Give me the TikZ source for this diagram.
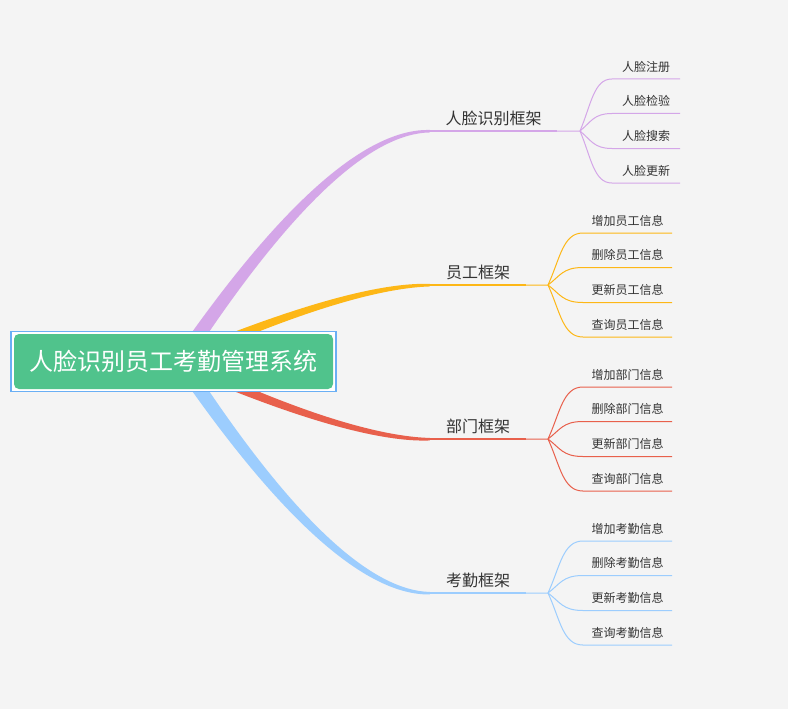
\documentclass[tikz,border=0pt]{standalone}
\usepackage{fontspec}
\newfontfamily\cjk{Noto Sans CJK SC}
\usetikzlibrary{calc,backgrounds}

\definecolor{bgcol}{HTML}{F4F4F4}
\definecolor{topiccol}{HTML}{50C38C}
\definecolor{framecol}{HTML}{6AAFF4}
\definecolor{facecol}{HTML}{D4A6E8}
\definecolor{staffcol}{HTML}{FDB716}
\definecolor{deptcol}{HTML}{E8604C}
\definecolor{attendcol}{HTML}{9CCDFE}
\definecolor{txtcol}{HTML}{333333}

\tikzset{
  rootbox/.style={fill=topiccol, rounded corners=5pt, minimum width=319pt, minimum height=55pt,
    inner sep=0pt, text=white, font=\cjk\fontsize{24}{24}\selectfont},
  selframe/.style={draw=framecol, fill=white, line width=1.5pt},
  branch/.style={inner sep=0pt, minimum height=26pt, text=txtcol, font=\cjk\fontsize{16}{16}\selectfont},
  leaf/.style={anchor=south, inner sep=0pt, minimum height=24pt, text=txtcol, font=\cjk\fontsize{12}{12}\selectfont},
  under/.style={line width=2pt},
  twig/.style={line width=1pt},
}

\begin{document}
\begin{tikzpicture}[x=1pt,y=-1pt]
    \useasboundingbox (0,0) rectangle (788,709);
    %% central topic
    \node[rootbox] (root) at (173.5,361.5) {人脸识别员工考勤管理系统};
    %% main topics
    \node[branch, minimum width=127pt] (face) at (493.5,118) {人脸识别框架};
    \node[branch, minimum width=96pt] (staff) at (478,272) {员工框架};
    \node[branch, minimum width=96pt] (dept) at (478,426) {部门框架};
    \node[branch, minimum width=96pt] (attend) at (478,580) {考勤框架};
    %% forks
    \coordinate (f1) at (580,131);
    \coordinate (f2) at (548,285);
    \coordinate (f3) at (548,439);
    \coordinate (f4) at (548,593);
    %% subtopics
    \node[leaf, minimum width=68pt] (face1) at (646,79) {人脸注册};
    \node[leaf, minimum width=68pt] (face2) at (646,113.5) {人脸检验};
    \node[leaf, minimum width=68pt] (face3) at (646,148.5) {人脸搜索};
    \node[leaf, minimum width=68pt] (face4) at (646,183) {人脸更新};
    \node[leaf, minimum width=89pt] (staff1) at (627.5,233) {增加员工信息};
    \node[leaf, minimum width=89pt] (staff2) at (627.5,267.5) {删除员工信息};
    \node[leaf, minimum width=89pt] (staff3) at (627.5,302.5) {更新员工信息};
    \node[leaf, minimum width=89pt] (staff4) at (627.5,337) {查询员工信息};
    \node[leaf, minimum width=89pt] (dept1) at (627.5,387) {增加部门信息};
    \node[leaf, minimum width=89pt] (dept2) at (627.5,421.5) {删除部门信息};
    \node[leaf, minimum width=89pt] (dept3) at (627.5,456.5) {更新部门信息};
    \node[leaf, minimum width=89pt] (dept4) at (627.5,491) {查询部门信息};
    \node[leaf, minimum width=89pt] (attend1) at (627.5,541) {增加考勤信息};
    \node[leaf, minimum width=89pt] (attend2) at (627.5,575.5) {删除考勤信息};
    \node[leaf, minimum width=89pt] (attend3) at (627.5,610.5) {更新考勤信息};
    \node[leaf, minimum width=89pt] (attend4) at (627.5,645) {查询考勤信息};

    \begin{scope}[on background layer]
        \fill[bgcol] (0,0) rectangle (788,709);
        %% tapered branches
        \fill[facecol] (190,335) .. controls (288.7,196.7) and (368.7,128.6) .. ([yshift=1.25pt]face.south west)
            -- ([yshift=-1.25pt]face.south west) .. controls (372.7,133.4) and (298.3,200.7) .. (207,335) -- cycle;
        \fill[staffcol] (226,335) .. controls (319.5,299.1) and (387.5,282.3) .. ([yshift=1.25pt]staff.south west)
            -- ([yshift=-1.25pt]staff.south west) .. controls (388.5,287.7) and (328.5,303.6) .. (250,335) -- cycle;
        \fill[deptcol] (226,388) .. controls (319.5,425.4) and (387.5,442.2) .. ([yshift=-1.25pt]dept.south west)
            -- ([yshift=1.25pt]dept.south west) .. controls (388.5,436.8) and (328.5,420.9) .. (250,388) -- cycle;
        \fill[attendcol] (190,388) .. controls (288.7,527.3) and (368.7,595.4) .. ([yshift=-1.25pt]attend.south west)
            -- ([yshift=1.25pt]attend.south west) .. controls (372.7,590.6) and (298.3,523.3) .. (207,388) -- cycle;
        %% selection frame
        \draw[selframe] ($(root.south west)+(-2.7,2.5)$) rectangle ($(root.north east)+(3,-2.5)$);
    \end{scope}

    %% underlines
    \draw[facecol, under] (face.south west) -- (face.south east);
    \draw[facecol, twig] (face.south east) -- (f1);
    \draw[staffcol, under] (staff.south west) -- (staff.south east);
    \draw[staffcol, twig] (staff.south east) -- (f2);
    \draw[deptcol, under] (dept.south west) -- (dept.south east);
    \draw[deptcol, twig] (dept.south east) -- (f3);
    \draw[attendcol, under] (attend.south west) -- (attend.south east);
    \draw[attendcol, twig] (attend.south east) -- (f4);

    %% sub branches
    \draw[facecol, twig] (f1) .. controls +(11,-26) and +(-18,0) .. (face1.south west) -- (face1.south east);
    \draw[facecol, twig] (f1) .. controls +(11,-9) and +(-18,0) .. (face2.south west) -- (face2.south east);
    \draw[facecol, twig] (f1) .. controls +(11,9) and +(-18,0) .. (face3.south west) -- (face3.south east);
    \draw[facecol, twig] (f1) .. controls +(11,26) and +(-18,0) .. (face4.south west) -- (face4.south east);
    \draw[staffcol, twig] (f2) .. controls +(12,-26) and +(-20,0) .. (staff1.south west) -- (staff1.south east);
    \draw[staffcol, twig] (f2) .. controls +(12,-9) and +(-20,0) .. (staff2.south west) -- (staff2.south east);
    \draw[staffcol, twig] (f2) .. controls +(12,9) and +(-20,0) .. (staff3.south west) -- (staff3.south east);
    \draw[staffcol, twig] (f2) .. controls +(12,26) and +(-20,0) .. (staff4.south west) -- (staff4.south east);
    \draw[deptcol, twig] (f3) .. controls +(12,-26) and +(-20,0) .. (dept1.south west) -- (dept1.south east);
    \draw[deptcol, twig] (f3) .. controls +(12,-9) and +(-20,0) .. (dept2.south west) -- (dept2.south east);
    \draw[deptcol, twig] (f3) .. controls +(12,9) and +(-20,0) .. (dept3.south west) -- (dept3.south east);
    \draw[deptcol, twig] (f3) .. controls +(12,26) and +(-20,0) .. (dept4.south west) -- (dept4.south east);
    \draw[attendcol, twig] (f4) .. controls +(12,-26) and +(-20,0) .. (attend1.south west) -- (attend1.south east);
    \draw[attendcol, twig] (f4) .. controls +(12,-9) and +(-20,0) .. (attend2.south west) -- (attend2.south east);
    \draw[attendcol, twig] (f4) .. controls +(12,9) and +(-20,0) .. (attend3.south west) -- (attend3.south east);
    \draw[attendcol, twig] (f4) .. controls +(12,26) and +(-20,0) .. (attend4.south west) -- (attend4.south east);
\end{tikzpicture}
\end{document}
